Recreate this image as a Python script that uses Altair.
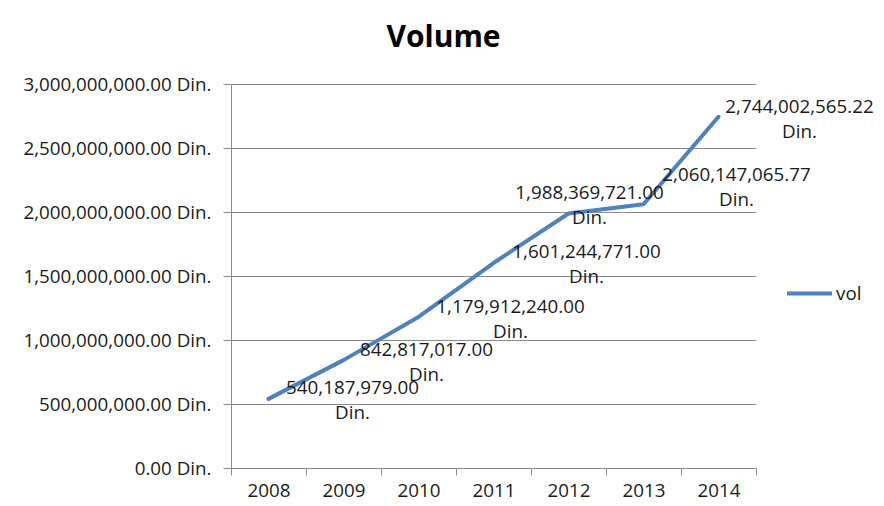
import altair as alt
import pandas as pd

years = ["2008", "2009", "2010", "2011", "2012", "2013", "2014"]
volumes = [540187979.00, 842817017.00, 1179912240.00, 1601244771.00,
           1988369721.00, 2060147065.77, 2744002565.22]
series_name = "vol"
y_ticks = [0, 500000000, 1000000000, 1500000000, 2000000000, 2500000000, 3000000000]

df = pd.DataFrame({
    "year": years,
    "volume": volumes,
    "series": [series_name] * len(years),
})
df["label"] = [f"{v:,.2f}\nDin." for v in volumes]

FONT = "Open Sans"
TXT = "#1a1a1a"
GRID = "#8a8a8a"
BLUE = "#4F81BD"
FS = 18.8

x = alt.X(
    "year:O",
    scale=alt.Scale(type="band", paddingInner=0, paddingOuter=0),
    axis=alt.Axis(title=None, labelAngle=0, tickBand="extent", tickSize=7,
                  labelPadding=6, labelFont=FONT, labelFontSize=FS,
                  labelColor=TXT, domainColor=GRID, tickColor=GRID, grid=False),
)
y = alt.Y(
    "volume:Q",
    scale=alt.Scale(domain=[0, 3000000000], nice=False),
    axis=alt.Axis(title=None, values=y_ticks,
                  labelExpr="format(datum.value, ',.2f') + ' Din.'",
                  labelLimit=0,
                  tickSize=8, labelPadding=12, labelFont=FONT, labelFontSize=FS,
                  labelColor=TXT, domainColor=GRID, tickColor=GRID,
                  gridColor=GRID, gridWidth=1),
)

base = alt.Chart(df)

line = base.mark_line(strokeWidth=4, strokeCap="round", strokeJoin="round").encode(
    x=x,
    y=y,
    color=alt.Color(
        "series:N",
        scale=alt.Scale(range=[BLUE]),
        legend=alt.Legend(title=None, orient="none", legendX=554, legendY=185,
                          symbolType="stroke", symbolStrokeWidth=4,
                          symbolSize=2025, labelOffset=2, labelFont=FONT,
                          labelFontSize=FS, labelColor=TXT),
    ),
)

# label nudges (dx, dy) per year, as placed in the original chart
nudges = {
    "2008": (84, -11), "2009": (83, -10), "2010": (92, -10), "2011": (93, -11),
    "2012": (21, -20), "2013": (93, -29), "2014": (81, -10),
}

layers = [line]
for yr in years:
    dx, dy = nudges[yr]
    layers.append(
        base.transform_filter(alt.datum.year == yr).mark_text(
            dx=dx, dy=dy, align="center", baseline="middle", lineBreak="\n",
            lineHeight=25, font=FONT, fontSize=FS, color=TXT,
        ).encode(x=x, y=y, text="label:N")
    )

chart = alt.layer(*layers).properties(
    width=525,
    height=384,
    title=alt.TitleParams("Volume", font=FONT, fontSize=30, fontWeight="bold",
                          color="#000000", anchor="middle", dx=-50, offset=22),
    autosize=alt.AutoSizeParams(type="none"),
    padding={"left": 223, "top": 76, "right": 118, "bottom": 30},
    background="#ffffff",
).configure_view(stroke=None)

chart.save("out.html", embed_options={"renderer": "svg", "actions": False})
